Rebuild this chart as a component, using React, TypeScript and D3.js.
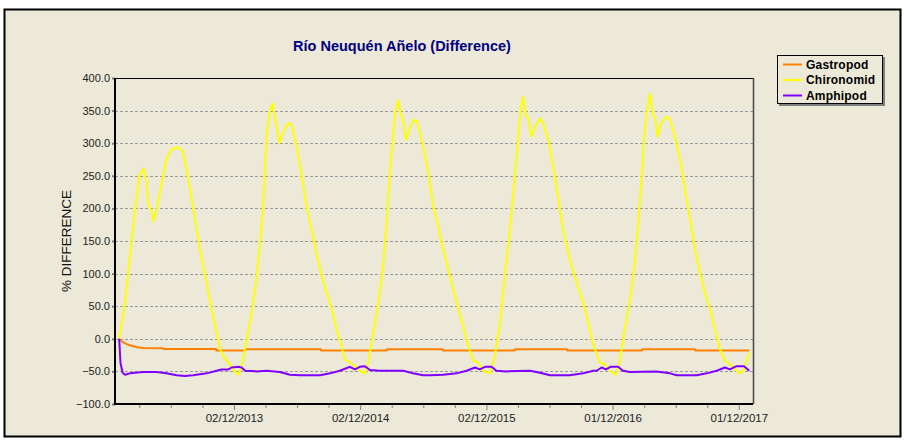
import { useEffect, useRef } from "react";
import * as d3 from "d3";

// day offsets from the start of the x domain, value in %
const START = new Date(2012, 11, 23);
const SPAN_DAYS = 1845;

const xTickLabels = ["02/12/2013", "02/12/2014", "02/12/2015", "01/12/2016", "01/12/2017"];
const yTicks = [-100, -50, 0, 50, 100, 150, 200, 250, 300, 350, 400];

const seriesNames = ["Gastropod", "Chironomid", "Amphipod"];
const seriesColors = ["#FF8000", "#FFFF00", "#8000FF"];

const gastropod: [number, number][] = [
  [12, 0], [17, -3], [29, -7], [43, -10], [64, -13], [81, -14], [139, -14.5], [140, -15.5],
  [292, -15.5], [293, -18], [376, -18], [377, -16], [595, -16], [596, -18], [786, -18],
  [787, -16], [948, -16], [949, -18], [1156, -18], [1157, -16], [1307, -16], [1308, -18],
  [1524, -18], [1525, -16], [1677, -16], [1678, -18], [1834, -18],
];

const chironomid: [number, number][] = [
  [12, 0], [29, 55], [43, 126], [58, 198], [70, 249], [82, 261], [90, 244], [96, 206],
  [106, 195], [111, 180], [120, 198], [135, 239], [149, 277], [164, 291], [183, 294],
  [196, 287], [207, 259], [222, 213], [236, 167], [251, 121], [265, 86], [279, 45],
  [294, 9], [304, -16], [318, -31], [332, -39], [344, -49], [357, -55], [366, -42],
  [381, -1], [395, 40], [410, 96], [421, 157], [429, 208], [434, 269], [440, 320],
  [448, 351], [456, 361], [463, 336], [469, 320], [475, 300], [487, 318], [501, 331],
  [511, 328], [525, 295], [540, 249], [554, 203], [569, 167], [583, 129], [598, 96],
  [612, 70], [627, 45], [641, 14], [652, -6], [665, -32], [679, -36], [694, -42],
  [708, -49], [723, -53], [732, -37], [747, 9], [761, 55], [776, 116], [786, 183],
  [795, 259], [804, 310], [810, 346], [819, 366], [826, 346], [834, 333], [841, 305],
  [853, 323], [864, 336], [874, 333], [891, 295], [906, 254], [920, 203], [930, 183],
  [949, 137], [968, 96], [988, 55], [1007, 19], [1021, -11], [1036, -33], [1050, -37],
  [1065, -49], [1084, -53], [1098, -27], [1113, 24], [1127, 96], [1142, 167], [1156, 249],
  [1166, 310], [1173, 351], [1180, 371], [1188, 343], [1195, 338], [1204, 310], [1217, 328],
  [1229, 338], [1238, 331], [1253, 305], [1267, 264], [1282, 214], [1296, 167], [1315, 121],
  [1335, 86], [1354, 55], [1369, 24], [1383, -9], [1402, -36], [1417, -39], [1431, -49],
  [1448, -55], [1460, -32], [1474, 14], [1489, 60], [1503, 116], [1513, 178], [1523, 249],
  [1530, 310], [1537, 346], [1547, 376], [1555, 346], [1562, 338], [1569, 310], [1580, 331],
  [1595, 341], [1605, 336], [1619, 310], [1634, 274], [1648, 229], [1663, 183], [1677, 137],
  [1692, 101], [1706, 70], [1721, 45], [1735, 14], [1749, -16], [1764, -34], [1778, -39],
  [1793, -47], [1807, -53], [1819, -47], [1834, -21],
];

const amphipod: [number, number][] = [
  [12, 0], [16, -37], [22, -52], [29, -55], [43, -53], [82, -51], [120, -51], [149, -53],
  [178, -56], [202, -57], [226, -56], [265, -53], [294, -49], [308, -47], [328, -47],
  [337, -44], [357, -43], [366, -44], [376, -49], [410, -50], [438, -49], [477, -51],
  [506, -55], [535, -56], [593, -56], [622, -53], [650, -49], [679, -43], [694, -47],
  [708, -43], [723, -42], [737, -48], [766, -49], [834, -49], [862, -53], [891, -56],
  [911, -56], [949, -55], [988, -53], [1017, -49], [1041, -44], [1055, -47], [1070, -43],
  [1089, -43], [1103, -49], [1132, -50], [1200, -49], [1229, -52], [1258, -56], [1315, -56],
  [1354, -53], [1383, -49], [1393, -49], [1407, -44], [1420, -47], [1433, -43], [1455, -43],
  [1469, -49], [1489, -51], [1566, -50], [1605, -53], [1624, -56], [1682, -56], [1711, -53],
  [1740, -49], [1764, -44], [1778, -47], [1798, -42], [1819, -42], [1834, -49],
];

const seriesData = [gastropod, chironomid, amphipod];

export default function App() {
  const svgRef = useRef<SVGSVGElement>(null);
  const width = 904;
  const height = 440;

  useEffect(() => {
    if (!svgRef.current) return;
    const svg = d3.select(svgRef.current);
    svg.selectAll("*").remove();

    const margin = { top: 78, right: 151, bottom: 36, left: 115 };
    const innerWidth = width - margin.left - margin.right;
    const innerHeight = height - margin.top - margin.bottom;
    const font = "'Liberation Sans', Arial, sans-serif";

    // outer frame
    svg.append("rect").attr("width", width).attr("height", height).attr("fill", "#fff");
    svg
      .append("rect")
      .attr("x", 4.5)
      .attr("y", 9.5)
      .attr("width", 896)
      .attr("height", 427)
      .attr("fill", "#ECE9D8")
      .attr("stroke", "#000")
      .attr("stroke-width", 2);

    const parse = d3.timeParse("%d/%m/%Y");
    const majorDates = xTickLabels.map((s) => parse(s) as Date);
    const minorDates: Date[] = [];
    for (let k = -3; k <= 16; k++) {
      if (k % 4 === 0) continue;
      minorDates.push(d3.timeHour.offset(majorDates[0], Math.round(k * 91.25 * 24)));
    }

    const x = d3
      .scaleTime()
      .domain([START, d3.timeDay.offset(START, SPAN_DAYS)])
      .range([0, innerWidth]);
    const y = d3.scaleLinear().domain([-100, 400]).range([innerHeight, 0]);

    const g = svg.append("g").attr("transform", `translate(${margin.left},${margin.top})`);

    // grid
    g.selectAll("line.grid")
      .data(yTicks.filter((t) => t > -100 && t < 400))
      .join("line")
      .attr("class", "grid")
      .attr("x1", 0)
      .attr("x2", innerWidth)
      .attr("y1", (d) => Math.round(y(d)) + 0.5)
      .attr("y2", (d) => Math.round(y(d)) + 0.5)
      .attr("stroke", "#9a9a9a")
      .attr("stroke-dasharray", "3,2");

    // frame top/right
    g.append("line").attr("x1", 0).attr("x2", innerWidth).attr("y1", 0.5).attr("y2", 0.5).attr("stroke", "#000");
    g.append("line")
      .attr("x1", innerWidth + 0.5)
      .attr("x2", innerWidth + 0.5)
      .attr("y1", 0)
      .attr("y2", innerHeight)
      .attr("stroke", "#444")
      .attr("stroke-width", 1.5);

    // y axis
    const yAxis = g
      .append("g")
      .call(d3.axisLeft(y).tickValues(yTicks).tickFormat(d3.format(".1f")).tickSize(3).tickPadding(2));
    yAxis.select(".domain").remove();
    yAxis.selectAll(".tick line").attr("stroke", "#808080").attr("stroke-width", 2);
    yAxis.selectAll("text").style("font-family", font).style("font-size", "11px").style("fill", "#222");

    // x axis minor ticks
    const xMinor = g
      .append("g")
      .attr("transform", `translate(0,${innerHeight})`)
      .call(d3.axisBottom(x).tickValues(minorDates).tickFormat(() => "").tickSize(4));
    xMinor.select(".domain").remove();
    xMinor.selectAll(".tick line").attr("stroke", "#808080");

    // x axis major ticks
    const xAxis = g
      .append("g")
      .attr("transform", `translate(0,${innerHeight})`)
      .call(
        d3
          .axisBottom(x)
          .tickValues(majorDates)
          .tickFormat((d) => d3.timeFormat("%d/%m/%Y")(d as Date))
          .tickSize(6)
          .tickPadding(4)
      );
    xAxis.select(".domain").remove();
    xAxis.selectAll(".tick line").attr("stroke", "#808080");
    xAxis.selectAll("text").style("font-family", font).style("font-size", "11.5px").style("fill", "#222");

    // axis lines
    g.append("line").attr("x1", 0).attr("x2", 0).attr("y1", 0).attr("y2", innerHeight + 1).attr("stroke", "#000").attr("stroke-width", 2);
    g.append("line")
      .attr("x1", -1)
      .attr("x2", innerWidth)
      .attr("y1", innerHeight)
      .attr("y2", innerHeight)
      .attr("stroke", "#000")
      .attr("stroke-width", 2);

    // series
    const line = d3
      .line<[number, number]>()
      .x((d) => x(d3.timeDay.offset(START, d[0])))
      .y((d) => y(d[1]));

    seriesData.forEach((data, i) => {
      g.append("path")
        .datum(data)
        .attr("d", line)
        .attr("fill", "none")
        .attr("stroke", seriesColors[i])
        .attr("stroke-width", 2)
        .attr("stroke-linejoin", "round");
    });

    // title
    svg
      .append("text")
      .attr("x", 402)
      .attr("y", 51)
      .attr("text-anchor", "middle")
      .style("font-family", font)
      .style("font-size", "14.5px")
      .style("font-weight", "bold")
      .style("fill", "#000080")
      .text("Río Neuquén Añelo (Difference)");

    // y title
    svg
      .append("text")
      .attr("transform", `translate(71,${margin.top + innerHeight / 2}) rotate(-90)`)
      .attr("text-anchor", "middle")
      .style("font-family", font)
      .style("font-size", "13.5px")
      .style("fill", "#111")
      .text("% DIFFERENCE");

    // legend
    const lg = svg.append("g").attr("transform", "translate(777,55)");
    lg.append("rect").attr("x", 2).attr("y", 2).attr("width", 106).attr("height", 49).attr("fill", "#808080");
    lg.append("rect")
      .attr("x", 0.5)
      .attr("y", 0.5)
      .attr("width", 105)
      .attr("height", 48)
      .attr("fill", "#ECE9D8")
      .attr("stroke", "#000");
    seriesNames.forEach((name, i) => {
      const yy = 9.5 + i * 15.5;
      lg.append("line").attr("x1", 6).attr("x2", 25).attr("y1", yy).attr("y2", yy).attr("stroke", seriesColors[i]).attr("stroke-width", 2);
      lg.append("text")
        .attr("x", 29)
        .attr("y", yy + 4)
        .style("font-family", font)
        .style("font-size", "12px")
        .style("font-weight", "bold")
        .style("letter-spacing", "0.2px")
        .style("fill", "#000")
        .text(name);
    });
  }, []);

  return (
    <>
      <style>{"body{margin:0}"}</style>
      <svg ref={svgRef} width={width} height={height} style={{ display: "block" }} />
    </>
  );
}
